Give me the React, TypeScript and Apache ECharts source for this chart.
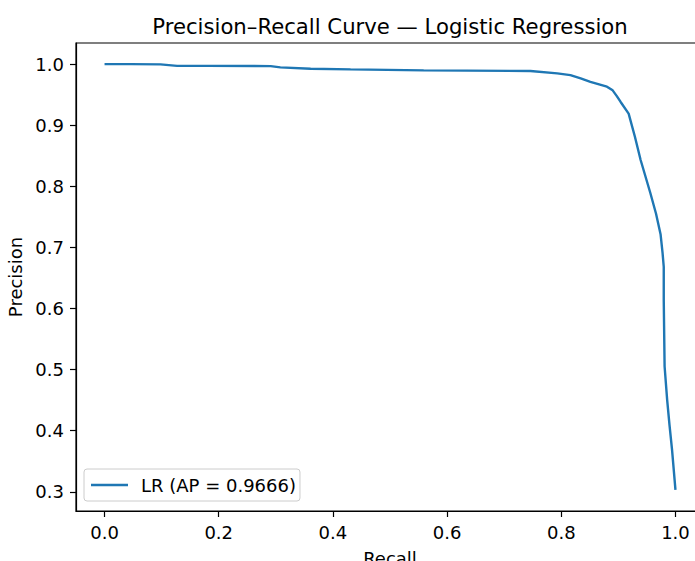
import React, { useEffect, useRef } from "react";
import * as echarts from "echarts";

const recall = [
  0, 0.046, 0.098, 0.127, 0.18, 0.291, 0.308, 0.361, 0.431, 0.559, 0.746, 0.793,
  0.816, 0.834, 0.851, 0.88, 0.89, 0.897, 0.904, 0.918, 0.929, 0.939, 0.956, 0.966,
  0.974, 0.9775, 0.9795, 0.9795, 0.981, 0.9855, 0.9895, 0.994, 1.0,
];
const precision = [
  1.0, 1.0, 0.9995, 0.997, 0.997, 0.9967, 0.9946, 0.9923, 0.9913, 0.9897, 0.9886,
  0.9848, 0.982, 0.9766, 0.971, 0.963, 0.957, 0.948, 0.938, 0.919, 0.881, 0.843,
  0.789, 0.755, 0.721, 0.69, 0.668, 0.614, 0.505, 0.45, 0.41, 0.369, 0.303,
];
const xTicks = [0, 0.2, 0.4, 0.6, 0.8, 1.0];
const yTicks = [0.3, 0.4, 0.5, 0.6, 0.7, 0.8, 0.9, 1.0];
const seriesName = "LR (AP = 0.9666)";
const titleText = "Precision\u2013Recall Curve \u2014 Logistic Regression";
const xName = "Recall";
const yName = "Precision";

const FONT = "DejaVu Sans";
const CHART_W = 720;

export default function App() {
  const ref = useRef<HTMLDivElement>(null);
  useEffect(() => {
    if (!ref.current) return;
    const chart = echarts.init(ref.current, undefined, { renderer: "svg" });
    const axisLineStyle = { color: "#000", width: 1.2 };
    chart.setOption({
      animation: false,
      backgroundColor: "#fff",
      grid: {
        left: 76,
        top: 43,
        right: CHART_W - 704,
        bottom: 50,
        containLabel: false,
        outerBoundsMode: "none",
        show: true,
        borderColor: "#000",
        borderWidth: 1.2,
        backgroundColor: "transparent",
      },
      graphic: [
        {
          type: "text",
          x: 390,
          y: 26,
          style: {
            text: titleText,
            fontFamily: FONT,
            fontSize: 21.2,
            fill: "#000",
            align: "center",
            verticalAlign: "middle",
          },
        },
      ],
      legend: {
        left: 84,
        top: 469,
        orient: "vertical",
        icon: "rect",
        itemWidth: 37,
        itemHeight: 2.4,
        padding: [7, 4, 7, 7],
        backgroundColor: "rgba(255,255,255,0.8)",
        borderColor: "#cccccc",
        borderWidth: 1,
        borderRadius: 3,
        textStyle: {
          fontSize: 18,
          fontFamily: FONT,
          color: "#000",
          padding: [0, 0, 0, 8],
          lineHeight: 18,
        },
        data: [seriesName],
      },
      xAxis: {
        type: "value",
        min: -0.05,
        max: 1.05,
        name: xName,
        nameLocation: "middle",
        nameGap: 38,
        nameTextStyle: { fontSize: 18, fontFamily: FONT, color: "#000" },
        axisLine: { show: true, onZero: false, lineStyle: axisLineStyle },
        axisTick: { show: true, length: 6, lineStyle: axisLineStyle, customValues: xTicks },
        axisLabel: {
          customValues: xTicks,
          formatter: (v: number) => v.toFixed(1),
          margin: 12,
          fontSize: 18,
          fontFamily: FONT,
          color: "#000",
        },
        splitLine: { show: false },
      },
      yAxis: {
        type: "value",
        min: 0.2685,
        max: 1.0345,
        name: yName,
        nameLocation: "middle",
        nameGap: 46,
        nameTextStyle: { fontSize: 18, fontFamily: FONT, color: "#000" },
        axisLine: { show: true, onZero: false, lineStyle: axisLineStyle },
        axisTick: { show: true, length: 6, lineStyle: axisLineStyle, customValues: yTicks },
        axisLabel: {
          customValues: yTicks,
          formatter: (v: number) => v.toFixed(1),
          margin: 12,
          fontSize: 18,
          fontFamily: FONT,
          color: "#000",
        },
        splitLine: { show: false },
      },
      series: [
        {
          name: seriesName,
          type: "line",
          data: recall.map((r, i) => [r, precision[i]]),
          showSymbol: false,
          symbol: "none",
          lineStyle: { color: "#1f77b4", width: 2.4 },
          itemStyle: { color: "#1f77b4" },
        },
      ],
    });
    return () => chart.dispose();
  }, []);
  return (
    <div
      style={{
        position: "fixed",
        left: 0,
        top: 0,
        width: 695,
        height: 561,
        overflow: "hidden",
        background: "#fff",
      }}
    >
      <div ref={ref} style={{ width: CHART_W, height: 561 }} />
    </div>
  );
}
